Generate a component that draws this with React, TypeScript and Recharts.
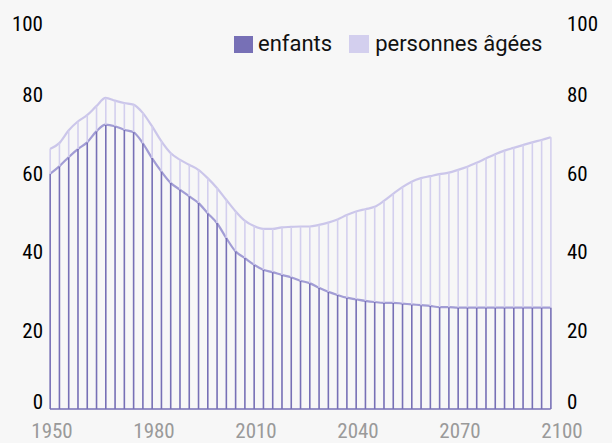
import { ComposedChart, Bar, Area, Line, XAxis, YAxis } from "recharts";

// rapport de dépendance (pour 100 personnes d'âge actif)
const enfants = [
  59.8, 61.7, 64.0, 66.1, 67.8, 70.6, 72.3, 71.9, 71.0, 70.4,
  67.6, 63.8, 60.4, 57.5, 55.8, 54.1, 52.4, 49.8, 47.3, 43.5,
  40.1, 38.4, 36.7, 35.4, 34.8, 34.1, 33.5, 32.6, 32.0, 30.8,
  29.8, 29.0, 28.3, 27.9, 27.5, 27.2, 27.0, 27.0, 26.8, 26.6,
  26.4, 26.2, 25.9, 25.9, 25.8, 25.8, 25.8, 25.8, 25.8, 25.8,
  25.8, 25.8, 25.8, 25.8, 25.8,
];
const agees = [
  6.3, 5.9, 6.8, 7.0, 6.9, 6.4, 6.8, 6.5, 6.8, 7.0,
  7.7, 8.1, 7.7, 7.6, 7.6, 8.0, 8.4, 8.9, 8.9, 9.7,
  10.2, 9.5, 9.8, 10.4, 11.0, 12.1, 12.8, 13.8, 14.4, 16.0,
  17.6, 19.2, 21.0, 22.3, 23.3, 24.2, 25.9, 27.7, 29.6, 31.2,
  32.3, 33.0, 33.8, 34.2, 35.0, 35.8, 36.8, 37.9, 39.0, 39.9,
  40.6, 41.3, 42.0, 42.6, 43.3,
];
const xTicks = [0, 11, 22, 33, 44, 55];
const xLabels = ["1950", "1980", "2010", "2040", "2070", "2100"];
const yTicks = [0, 20, 40, 60, 80, 100];

const DARK = "#7770b6";
const MID = "#a29dd5";
const LIGHT = "#d3cfee";
const LIGHT_LINE = "#cbc6ea";
const NARROW = "'Roboto Condensed', 'Liberation Sans Narrow', Roboto, sans-serif";

const data = enfants.map((v, i) => ({ i, enfants: v, agees: agees[i], base: 0 }));

const YTick = (props: any) => {
  const { x, y, payload, textAnchor } = props;
  let dy = 7.5;
  if (payload.value === 0) dy = 0;
  if (payload.value === 100) dy = 15;
  return (
    <text x={x} y={y} dy={dy} textAnchor={textAnchor} fill="#000" fontSize={21} fontFamily={NARROW}>
      {payload.value}
    </text>
  );
};

const XTick = (props: any) => {
  const { x, y, payload } = props;
  const idx = xTicks.indexOf(payload.value);
  return (
    <text x={x} y={y} dx={2} dy={22} textAnchor="middle" fill="#9a9a9a" fontSize={21} fontFamily={NARROW}>
      {xLabels[idx]}
    </text>
  );
};

export default function App() {
  return (
    <div style={{ position: "absolute", left: 0, top: 0, width: 612, height: 443, background: "#f7f7f7" }}>
      <ComposedChart width={612} height={443} data={data} margin={{ top: 15.7, right: 0, left: 0, bottom: 0 }}>
        <XAxis
          dataKey="i"
          type="number"
          domain={[0, 55]}
          ticks={xTicks}
          interval={0}
          height={34}
          tickSize={5}
          tickLine={false}
          axisLine={false}
          tick={XTick}
        />
        <YAxis yAxisId="l" domain={[0, 100]} ticks={yTicks} width={50} tickSize={5} tickLine={false} axisLine={false} tick={YTick} />
        <YAxis yAxisId="r" orientation="right" domain={[0, 100]} ticks={yTicks} width={52} tickSize={5} tickLine={false} axisLine={false} tick={YTick} />
        <Bar yAxisId="l" dataKey="enfants" stackId="b" fill={DARK} barSize={1.6} isAnimationActive={false} />
        <Bar yAxisId="l" dataKey="agees" stackId="b" fill={LIGHT} barSize={1.6} isAnimationActive={false} />
        <Area yAxisId="l" type="monotone" dataKey="enfants" stackId="a" fill="none" stroke={MID} strokeWidth={2.2} dot={false} activeDot={false} isAnimationActive={false} />
        <Area yAxisId="l" type="monotone" dataKey="agees" stackId="a" fill="none" stroke={LIGHT_LINE} strokeWidth={2.2} dot={false} activeDot={false} isAnimationActive={false} />
        <Line yAxisId="r" type="linear" dataKey="base" stroke={DARK} strokeWidth={1.5} dot={false} activeDot={false} isAnimationActive={false} />
      </ComposedChart>
      <div
        style={{
          position: "absolute",
          left: 234,
          top: 33,
          height: 22,
          display: "flex",
          alignItems: "center",
          fontFamily: "Roboto, sans-serif",
          fontSize: 22,
          lineHeight: "22px",
          color: "#111",
        }}
      >
        <div style={{ width: 19, height: 17, background: DARK, marginRight: 5 }} />
        <span style={{ marginRight: 17 }}>enfants</span>
        <div style={{ width: 20, height: 18, background: LIGHT, marginRight: 6 }} />
        <span>personnes âgées</span>
      </div>
    </div>
  );
}
